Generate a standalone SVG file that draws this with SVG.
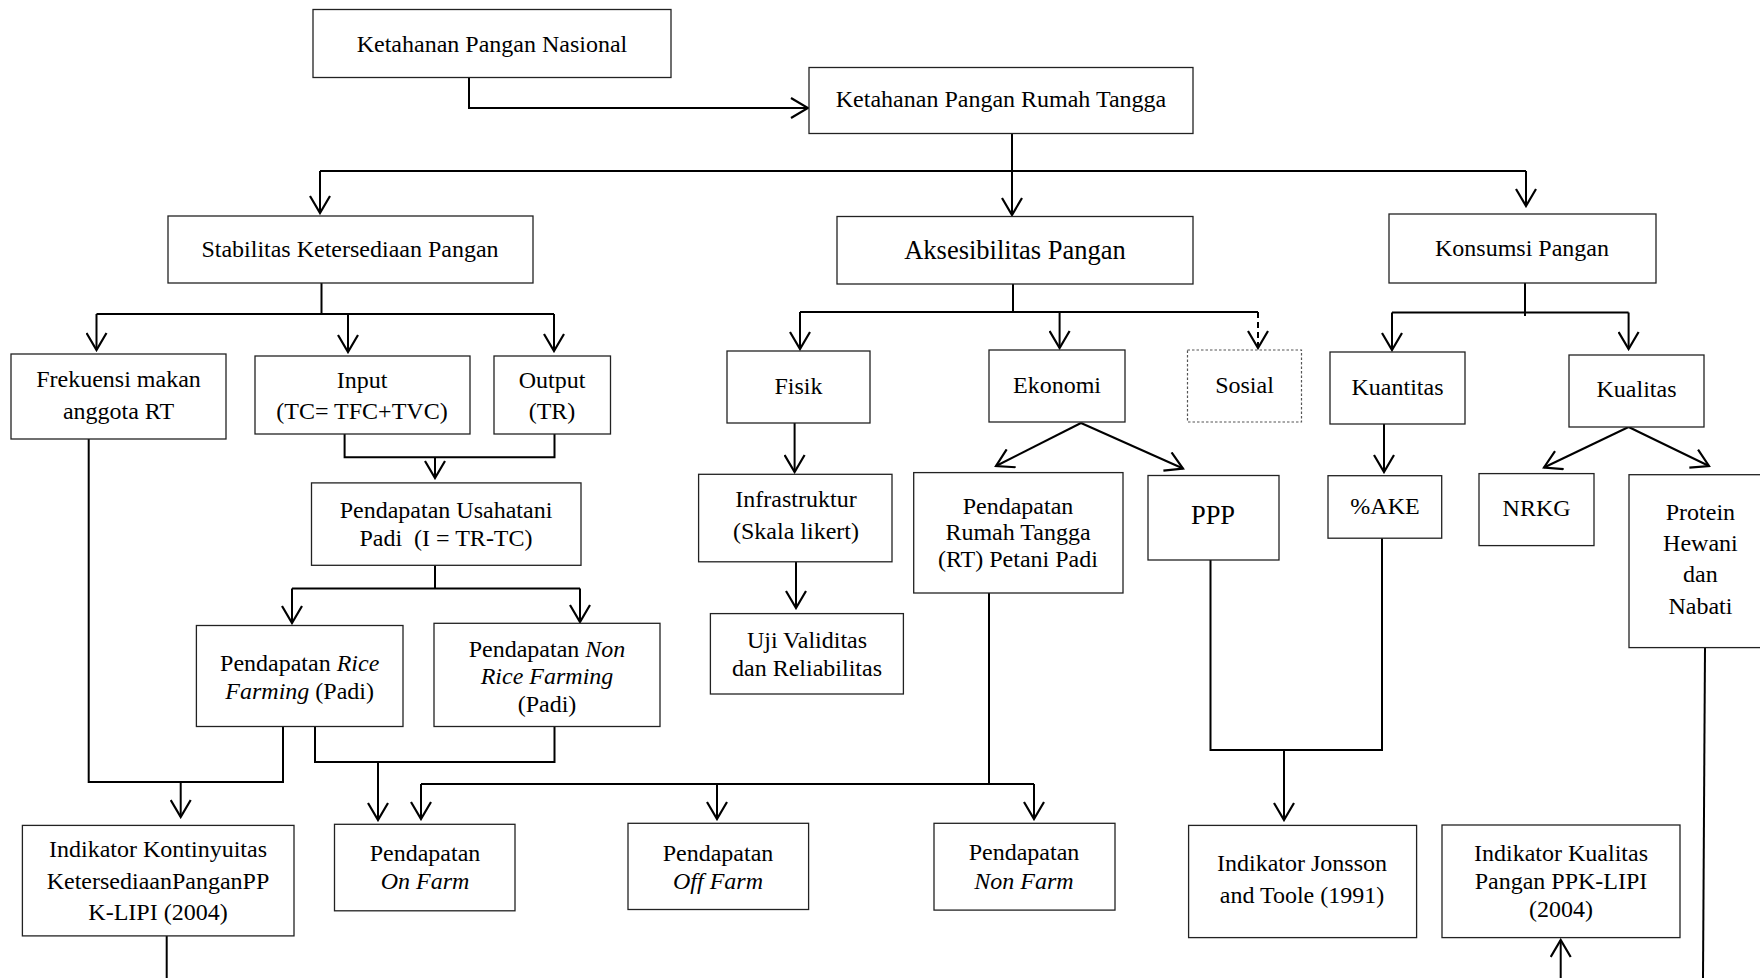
<svg xmlns="http://www.w3.org/2000/svg" width="1760" height="978" viewBox="0 0 1760 978">
<style>
  .box { fill: #ffffff; stroke: #222222; stroke-width: 1.3; }
  .dot { fill: #ffffff; stroke: #555555; stroke-width: 1.2; stroke-dasharray: 2.5 2; }
  .t { font-family: "Liberation Serif", "Times New Roman", serif; font-size: 24px; fill: #000000; text-anchor: middle; }
  .big { font-size: 26.5px; }
  .i { font-style: italic; }
  .c { fill: none; stroke: #000000; stroke-width: 2; }
  .a { fill: none; stroke: #000000; stroke-width: 2; marker-end: url(#arr); }
  .d { stroke-dasharray: 6 4; }
</style>
<defs>
  <marker id="arr" viewBox="0 0 20 22" markerWidth="20" markerHeight="22" refX="18" refY="11" orient="auto" markerUnits="userSpaceOnUse">
    <path d="M1,1 L18,11 L1,21" fill="none" stroke="#000000" stroke-width="2.2"/>
  </marker>
</defs>
<rect x="0" y="0" width="1760" height="978" fill="#ffffff"/>

<g id="connectors">
  <path class="a" d="M469,77 V108 H808"/>
  <path class="c" d="M320,171 H1526"/>
  <path class="a" d="M320,171 V213"/>
  <path class="a" d="M1012,133 V215"/>
  <path class="a" d="M1526,171 V206"/>

  <path class="c" d="M321.5,283 V314"/>
  <path class="c" d="M96.5,314 H554"/>
  <path class="a" d="M96.5,314 V350"/>
  <path class="a" d="M348,314 V352"/>
  <path class="a" d="M554,314 V351"/>

  <path class="c" d="M1013,284 V312"/>
  <path class="c" d="M800,312 H1258"/>
  <path class="a" d="M800,312 V349"/>
  <path class="a" d="M1059.6,312 V348"/>
  <path class="a d" d="M1258,312 V348"/>

  <path class="c" d="M1525,283 V316"/>
  <path class="c" d="M1392,312.5 H1628.6"/>
  <path class="a" d="M1392,312.5 V350"/>
  <path class="a" d="M1628.6,312.5 V349"/>

  <path class="c" d="M344.6,434 V457.2 H554.5 V434"/>
  <path class="a" d="M435,457.2 V478"/>

  <path class="a" d="M794.6,423 V472"/>
  <path class="a" d="M796,561.8 V608"/>

  <path class="a" d="M1081,423 L996,466"/>
  <path class="a" d="M1081,423 L1183,468.5"/>
  <path class="a" d="M1628.6,427 L1544,467.5"/>
  <path class="a" d="M1628.6,427 L1709,466"/>
  <path class="a" d="M1384,424 V472"/>

  <path class="c" d="M435,565.3 V588.6"/>
  <path class="c" d="M292,588.6 H580"/>
  <path class="a" d="M292,588.6 V623"/>
  <path class="a" d="M580,588.6 V622"/>

  <path class="c" d="M88.7,439 V782 H283 V726.5"/>
  <path class="a" d="M180.7,782 V817"/>
  <path class="c" d="M315,726.5 V761.9 H554.5 V726.5"/>
  <path class="a" d="M378,761.9 V820"/>

  <path class="c" d="M989,593 V783.9"/>
  <path class="c" d="M421,783.9 H1034"/>
  <path class="a" d="M421,783.9 V819"/>
  <path class="a" d="M717,783.9 V819"/>
  <path class="a" d="M1034,783.9 V819"/>

  <path class="c" d="M1210.5,560 V749.9 H1382 V538"/>
  <path class="a" d="M1284,749.9 V820"/>

  <path class="c" d="M166.7,935.9 V978"/>
  <path class="a" d="M1560.7,978 V940"/>
  <path class="c" d="M1705,647.6 L1703,978"/>
</g>

<g id="n-nasional">
  <rect class="box" x="313" y="9.5" width="358" height="68"/>
  <text class="t" x="492" y="52">Ketahanan Pangan Nasional</text>
</g>
<g id="n-rumahtangga">
  <rect class="box" x="809" y="67.5" width="384" height="66"/>
  <text class="t" x="1001" y="107">Ketahanan Pangan Rumah Tangga</text>
</g>
<g id="n-stabilitas">
  <rect class="box" x="168" y="216" width="365" height="67"/>
  <text class="t" x="350" y="257">Stabilitas Ketersediaan Pangan</text>
</g>
<g id="n-aksesibilitas">
  <rect class="box" x="837" y="216.5" width="356" height="67.5"/>
  <text class="t big" x="1015" y="259">Aksesibilitas Pangan</text>
</g>
<g id="n-konsumsi">
  <rect class="box" x="1389" y="214" width="267" height="69"/>
  <text class="t" x="1522" y="256">Konsumsi Pangan</text>
</g>

<g id="n-frekuensi">
  <rect class="box" x="11" y="354" width="215" height="85"/>
  <text class="t" x="118.5" y="387">Frekuensi makan</text>
  <text class="t" x="118.5" y="419">anggota RT</text>
</g>
<g id="n-input">
  <rect class="box" x="255" y="356" width="215" height="78"/>
  <text class="t" x="362" y="388">Input</text>
  <text class="t" x="362" y="419">(TC= TFC+TVC)</text>
</g>
<g id="n-output">
  <rect class="box" x="494" y="356" width="116.5" height="78"/>
  <text class="t" x="552" y="388">Output</text>
  <text class="t" x="552" y="419">(TR)</text>
</g>
<g id="n-fisik">
  <rect class="box" x="727" y="351" width="143" height="72"/>
  <text class="t" x="798.5" y="394">Fisik</text>
</g>
<g id="n-ekonomi">
  <rect class="box" x="989" y="350" width="136" height="72"/>
  <text class="t" x="1057" y="393">Ekonomi</text>
</g>
<g id="n-sosial">
  <rect class="dot" x="1187.5" y="350" width="114" height="72"/>
  <text class="t" x="1244.5" y="393">Sosial</text>
</g>
<g id="n-kuantitas">
  <rect class="box" x="1330" y="352" width="135" height="72"/>
  <text class="t" x="1397.5" y="395">Kuantitas</text>
</g>
<g id="n-kualitas">
  <rect class="box" x="1569" y="355" width="135" height="72"/>
  <text class="t" x="1636.5" y="397">Kualitas</text>
</g>

<g id="n-usahatani">
  <rect class="box" x="311.5" y="482.9" width="269.5" height="82.4"/>
  <text class="t" x="446" y="518">Pendapatan Usahatani</text>
  <text class="t" x="446" y="546" xml:space="preserve">Padi  (I = TR-TC)</text>
</g>
<g id="n-infrastruktur">
  <rect class="box" x="698.6" y="474.3" width="193.4" height="87.5"/>
  <text class="t" x="796" y="507">Infrastruktur</text>
  <text class="t" x="796" y="539">(Skala likert)</text>
</g>
<g id="n-uji">
  <rect class="box" x="710.4" y="613.6" width="193" height="80.4"/>
  <text class="t" x="807" y="648">Uji Validitas</text>
  <text class="t" x="807" y="676">dan Reliabilitas</text>
</g>
<g id="n-pendrt">
  <rect class="box" x="913.7" y="472.6" width="209.3" height="120.4"/>
  <text class="t" x="1018" y="514">Pendapatan</text>
  <text class="t" x="1018" y="540">Rumah Tangga</text>
  <text class="t" x="1018" y="567">(RT) Petani Padi</text>
</g>
<g id="n-ppp">
  <rect class="box" x="1148" y="475.5" width="131" height="84.5"/>
  <text class="t big" x="1213" y="524">PPP</text>
</g>
<g id="n-ake">
  <rect class="box" x="1328" y="475.7" width="113.7" height="62.5"/>
  <text class="t" x="1385" y="514">%AKE</text>
</g>
<g id="n-nrkg">
  <rect class="box" x="1479" y="473.6" width="115" height="72"/>
  <text class="t" x="1536.6" y="516">NRKG</text>
</g>
<g id="n-protein">
  <rect class="box" x="1629" y="474.7" width="150" height="172.9"/>
  <text class="t" x="1700.4" y="520">Protein</text>
  <text class="t" x="1700.4" y="551">Hewani</text>
  <text class="t" x="1700.4" y="582">dan</text>
  <text class="t" x="1700.4" y="614">Nabati</text>
</g>

<g id="n-rice">
  <rect class="box" x="196.4" y="625.5" width="206.6" height="101"/>
  <text class="t" x="299.7" y="671">Pendapatan <tspan class="i">Rice</tspan></text>
  <text class="t" x="299.7" y="699"><tspan class="i">Farming</tspan> (Padi)</text>
</g>
<g id="n-nonrice">
  <rect class="box" x="434" y="623.3" width="226" height="103.2"/>
  <text class="t" x="547" y="657">Pendapatan <tspan class="i">Non</tspan></text>
  <text class="t i" x="547" y="684">Rice Farming</text>
  <text class="t" x="547" y="712">(Padi)</text>
</g>

<g id="n-kontinyuitas">
  <rect class="box" x="22.4" y="825.4" width="271.6" height="110.5"/>
  <text class="t" x="158" y="857">Indikator Kontinyuitas</text>
  <text class="t" x="158" y="889">KetersediaanPanganPP</text>
  <text class="t" x="158" y="920">K-LIPI (2004)</text>
</g>
<g id="n-onfarm">
  <rect class="box" x="334.5" y="824.3" width="180.5" height="86.5"/>
  <text class="t" x="425" y="861">Pendapatan</text>
  <text class="t i" x="425" y="889">On Farm</text>
</g>
<g id="n-offfarm">
  <rect class="box" x="628" y="823.3" width="180.6" height="86.2"/>
  <text class="t" x="718" y="861">Pendapatan</text>
  <text class="t i" x="718" y="889">Off Farm</text>
</g>
<g id="n-nonfarm">
  <rect class="box" x="934" y="823.3" width="181" height="86.8"/>
  <text class="t" x="1024" y="860">Pendapatan</text>
  <text class="t i" x="1024" y="889">Non Farm</text>
</g>
<g id="n-jonsson">
  <rect class="box" x="1188.6" y="825.4" width="228" height="112.2"/>
  <text class="t" x="1302" y="871">Indikator Jonsson</text>
  <text class="t" x="1302" y="903">and Toole (1991)</text>
</g>
<g id="n-kualitasppk">
  <rect class="box" x="1442" y="825" width="238" height="112.6"/>
  <text class="t" x="1561" y="861">Indikator Kualitas</text>
  <text class="t" x="1561" y="889">Pangan PPK-LIPI</text>
  <text class="t" x="1561" y="917">(2004)</text>
</g>
</svg>
